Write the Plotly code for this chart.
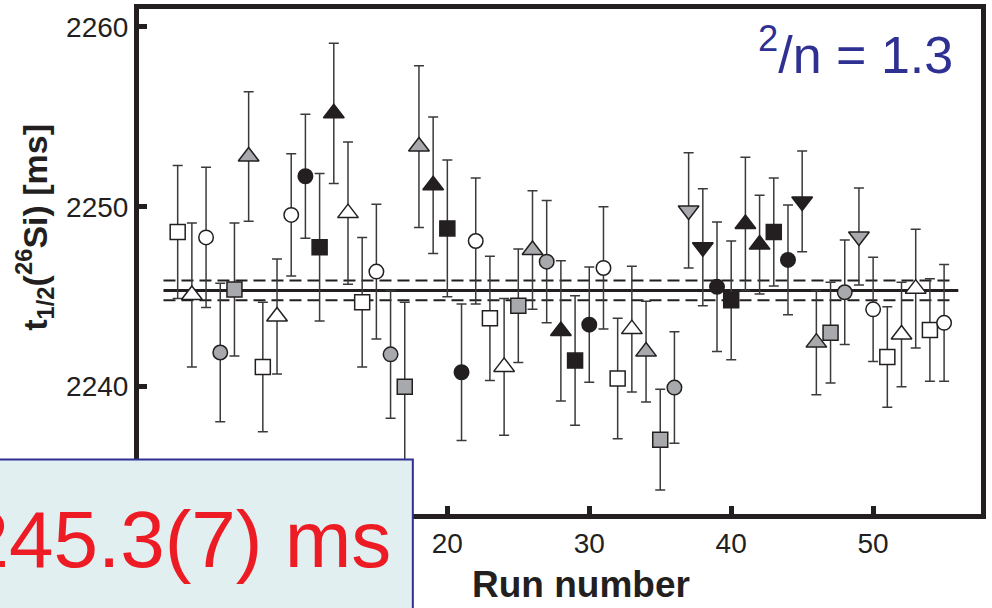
import plotly.graph_objects as go

# ---- data ----
runs = list(range(1, 56))
values = [2248.6, 2245.1, 2248.3, 2241.9, 2245.4, 2252.8, 2241.1, 2243.9, 2249.55, 2251.7,
          2247.75, 2255.2, 2249.65, 2244.7, 2246.4, 2241.8, 2240.0, 2253.35, 2251.2, 2248.8,
          2240.8, 2248.1, 2243.8, 2241.1, 2244.5, 2247.6, 2246.95, 2243.1, 2241.45, 2243.45,
          2246.6, 2240.45, 2243.2, 2241.95, 2237.05, 2239.95, 2249.8, 2247.75, 2245.55, 2244.8,
          2249.05, 2247.9, 2248.6, 2247.05, 2250.3, 2242.45, 2243.0, 2245.25, 2248.35, 2244.3,
          2241.65, 2242.9, 2245.45, 2243.15, 2243.55]
errors = [3.7, 4.0, 3.9, 3.85, 3.7, 3.6, 3.6, 3.2, 3.4, 3.45,
          4.1, 3.9, 3.95, 3.6, 3.75, 3.55, 4.7, 4.5, 3.8, 3.8,
          3.8, 3.5, 3.45, 3.8, 3.15, 3.3, 3.4, 3.9, 3.6, 3.2,
          3.4, 3.35, 3.5, 2.8, 2.8, 3.1, 3.2, 3.25, 3.6, 3.3,
          3.7, 2.75, 3.0, 3.05, 2.8, 2.9, 2.8, 2.9, 2.7, 2.9,
          2.8, 2.9, 3.3, 2.85, 3.25]
shapes_ = ["sq", "tu", "ci", "ci", "sq", "tu", "sq", "tu", "ci", "ci",
           "sq", "tu", "tu", "sq", "ci", "ci", "sq", "tu", "tu", "sq",
           "ci", "ci", "sq", "tu", "sq", "tu", "ci", "tu", "sq", "ci",
           "ci", "sq", "tu", "tu", "sq", "ci", "td", "td", "ci", "sq",
           "tu", "tu", "sq", "ci", "td", "tu", "sq", "ci", "td", "ci",
           "sq", "tu", "tu", "sq", "ci"]
fills = ["open", "open", "open", "grey", "grey", "grey", "open", "open", "open", "black",
         "black", "black", "open", "open", "open", "grey", "grey", "grey", "black", "black",
         "black", "open", "open", "open", "grey", "grey", "grey", "black", "black", "black",
         "open", "open", "open", "grey", "grey", "grey", "grey", "black", "black", "black",
         "black", "black", "black", "black", "black", "grey", "grey", "grey", "grey", "open",
         "open", "open", "open", "open", "open"]

fit_value = 2245.35
fit_err = 0.55
fit_span = [0, 56]
fit_err_span = [0, 55.5]

x_ticks = [20, 30, 40, 50]
y_ticks = [2240, 2250, 2260]
chi_text = "<sup>2</sup>/n = 1.3"
result_text = "2245.3(7) ms"

# ---- styling ----
INK = "#231f20"
fill_color = {"open": "white", "grey": "#a7a9ac", "black": INK}
symbol_map = {"sq": "square", "tu": "triangle-up", "td": "triangle-down", "ci": "circle"}
size_map = {"sq": 15, "tu": 18, "td": 18, "ci": 14.5}

fig = go.Figure()

# fit lines
fig.add_trace(go.Scatter(x=fit_err_span, y=[fit_value + fit_err] * 2, mode="lines",
                         line=dict(color=INK, width=2, dash="12px,6px"), hoverinfo="skip"))
fig.add_trace(go.Scatter(x=fit_err_span, y=[fit_value - fit_err] * 2, mode="lines",
                         line=dict(color=INK, width=2, dash="12px,6px"), hoverinfo="skip"))
fig.add_trace(go.Scatter(x=fit_span, y=[fit_value] * 2, mode="lines",
                         line=dict(color=INK, width=3), hoverinfo="skip"))

for r, v, e, s, f in zip(runs, values, errors, shapes_, fills):
    fig.add_trace(go.Scatter(
        x=[r], y=[v], mode="markers",
        error_y=dict(type="data", array=[e], visible=True, color="#3a3a3a",
                     thickness=1.5, width=5),
        marker=dict(symbol=symbol_map[s], size=size_map[s], color=fill_color[f],
                    line=dict(color=INK, width=1.5)),
    ))

PLOT_L, PLOT_R, PLOT_T, PLOT_B = 139, 981.5, 9, 514.5
W, H = 992, 608
pw = PLOT_R - PLOT_L
ph = PLOT_B - PLOT_T


def px_x(p):
    return (p - PLOT_L) / pw


def px_y(p):
    return (PLOT_B - p) / ph


fig.update_layout(
    width=W, height=H,
    margin=dict(l=PLOT_L, r=W - PLOT_R, t=PLOT_T, b=H - PLOT_B, pad=0, autoexpand=False),
    paper_bgcolor="white", plot_bgcolor="white",
    showlegend=False,
    font=dict(family="Arial, Liberation Sans, sans-serif", color=INK),
    xaxis=dict(range=[-1.725, 57.6], tickvals=x_ticks, ticks="inside", ticklen=8,
               tickwidth=5, tickcolor=INK, showline=True, mirror=True, linewidth=5,
               linecolor=INK, showgrid=False, zeroline=False, automargin=False,
               tickfont=dict(size=28, color=INK)),
    yaxis=dict(range=[2232.92, 2261.0], tickvals=y_ticks, ticks="inside", ticklen=8,
               tickwidth=5, tickcolor=INK, showline=True, mirror=True, linewidth=5,
               linecolor=INK, showgrid=False, zeroline=False, automargin=False,
               tickfont=dict(size=28, color=INK)),
    shapes=[dict(type="rect", xref="paper", yref="paper",
                 x0=px_x(-10), x1=px_x(413), y0=px_y(620), y1=px_y(460),
                 fillcolor="#e2eff1", line=dict(color="#2e3192", width=2), layer="above")],
    annotations=[
        dict(text=result_text, xref="paper", yref="paper", x=px_x(393), y=px_y(540),
             xanchor="right", yanchor="middle", showarrow=False,
             font=dict(size=80, color="#ed1c24")),
        dict(text=chi_text, xref="paper", yref="paper", x=px_x(955), y=px_y(51),
             xanchor="right", yanchor="middle", showarrow=False,
             font=dict(size=52, color="#2e3192")),
        dict(text="<b>t<sub>1/2</sub>(<sup>26</sup>Si) [ms]</b>", xref="paper", yref="paper",
             x=px_x(34), y=px_y(228), xanchor="center", yanchor="middle", textangle=-90,
             showarrow=False, font=dict(size=34, color=INK)),
        dict(text="<b>Run number</b>", xref="paper", yref="paper", x=px_x(581), y=px_y(585),
             xanchor="center", yanchor="middle", showarrow=False,
             font=dict(size=37, color=INK)),
    ],
)

fig.write_html("out.html")
